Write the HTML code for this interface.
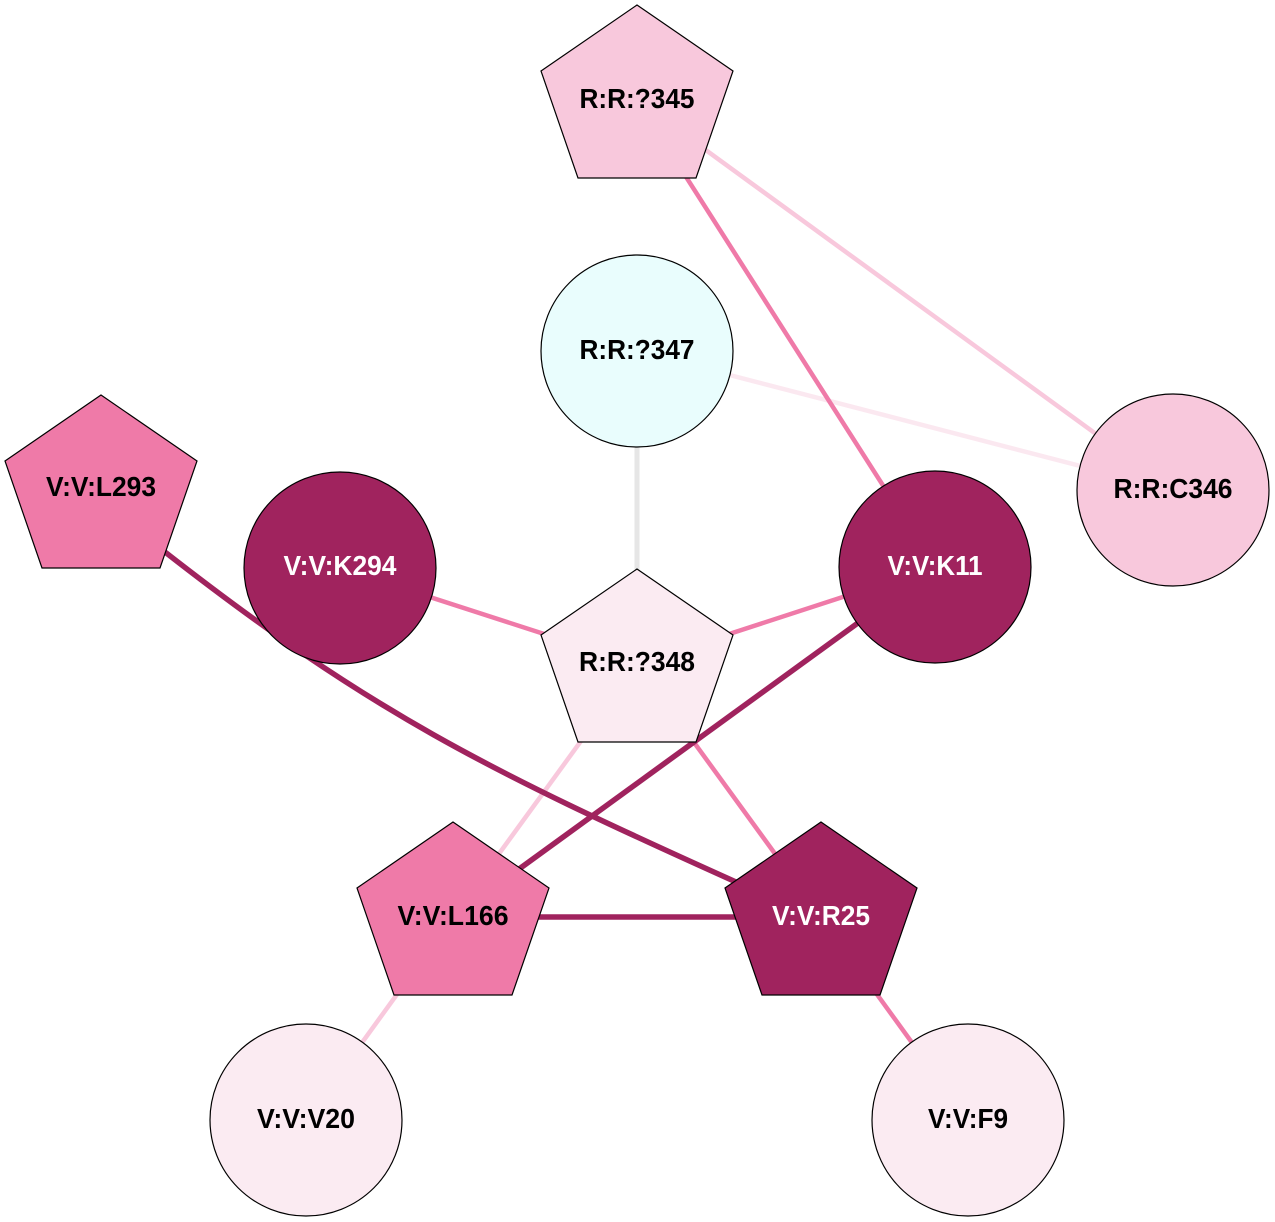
<!DOCTYPE html>
<html>
<head>
<meta charset="utf-8">
<style>
  html, body { margin:0; padding:0; background:#ffffff; }
  svg { display:block; }
  text { font-family: "Liberation Sans", Arial, sans-serif; font-weight: bold; font-size: 28px; text-anchor: middle; }
</style>
</head>
<body>
<svg width="1275" height="1222" viewBox="0 0 1275 1222" xmlns="http://www.w3.org/2000/svg">
  <rect x="0" y="0" width="1275" height="1222" fill="#ffffff"/>
  <!-- edges -->
  <g fill="none" stroke-linecap="butt">
    <line x1="637" y1="100" x2="1173" y2="490" stroke="#f8c8dc" stroke-width="4.5"/>
    <line x1="637" y1="351" x2="1173" y2="490" stroke="#fbe8f0" stroke-width="4.5"/>
    <line x1="637" y1="100" x2="935" y2="567" stroke="#ef7aa8" stroke-width="4.5"/>
    <line x1="637" y1="351" x2="637" y2="664" stroke="#e6e6e6" stroke-width="5"/>
    <line x1="340" y1="568" x2="637" y2="664" stroke="#ef7aa8" stroke-width="4.5"/>
    <line x1="637" y1="664" x2="935" y2="567" stroke="#ef7aa8" stroke-width="4.5"/>
    <line x1="637" y1="664" x2="453" y2="917" stroke="#f8c8dc" stroke-width="4.5"/>
    <line x1="637" y1="664" x2="821" y2="917" stroke="#ef7aa8" stroke-width="4.5"/>
    <path d="M165,552 C370,712 486,769.5 736,882" stroke="#a0235e" stroke-width="5.5"/>
    <line x1="935" y1="567" x2="453" y2="917" stroke="#a0235e" stroke-width="5.5"/>
    <line x1="453" y1="917" x2="821" y2="917" stroke="#a0235e" stroke-width="5.5"/>
    <line x1="453" y1="917" x2="306" y2="1120" stroke="#f8c8dc" stroke-width="4.5"/>
    <line x1="821" y1="917" x2="968" y2="1120" stroke="#ef7aa8" stroke-width="4.5"/>
  </g>
  <!-- nodes -->
  <g stroke="#000000" stroke-width="1.2">
    <polygon points="637,5 733,71 696,178 578,178 541,71" fill="#f8c8dc"/>
    <circle cx="637" cy="351" r="96" fill="#e9fdfd"/>
    <circle cx="1173" cy="490" r="96" fill="#f8c8dc"/>
    <polygon points="101,395 197,461 160,568 42,568 5,461" fill="#ef7aa8"/>
    <circle cx="340" cy="568" r="96" fill="#a0235e"/>
    <polygon points="637,569 733,635 696,742 578,742 541,635" fill="#fbebf2"/>
    <circle cx="935" cy="567" r="96" fill="#a0235e"/>
    <polygon points="453,822 549,888 512,995 394,995 357,888" fill="#ef7aa8"/>
    <polygon points="821,822 917,888 880,995 762,995 725,888" fill="#a0235e"/>
    <circle cx="306" cy="1120" r="96" fill="#fbebf2"/>
    <circle cx="968" cy="1120" r="96" fill="#fbebf2"/>
  </g>
  <!-- labels -->
  <g>
    <text x="637" y="108" fill="#000" textLength="115" lengthAdjust="spacingAndGlyphs">R:R:?345</text>
    <text x="637" y="359" fill="#000" textLength="115" lengthAdjust="spacingAndGlyphs">R:R:?347</text>
    <text x="1173" y="498" fill="#000" textLength="119" lengthAdjust="spacingAndGlyphs">R:R:C346</text>
    <text x="101" y="496" fill="#000" textLength="110" lengthAdjust="spacingAndGlyphs">V:V:L293</text>
    <text x="340" y="575" fill="#ffffff" textLength="113" lengthAdjust="spacingAndGlyphs">V:V:K294</text>
    <text x="637" y="671" fill="#000" textLength="116" lengthAdjust="spacingAndGlyphs">R:R:?348</text>
    <text x="935" y="575" fill="#ffffff" textLength="95" lengthAdjust="spacingAndGlyphs">V:V:K11</text>
    <text x="453" y="925" fill="#000" textLength="111" lengthAdjust="spacingAndGlyphs">V:V:L166</text>
    <text x="821" y="925" fill="#ffffff" textLength="98" lengthAdjust="spacingAndGlyphs">V:V:R25</text>
    <text x="306" y="1128" fill="#000" textLength="98" lengthAdjust="spacingAndGlyphs">V:V:V20</text>
    <text x="968" y="1128" fill="#000" textLength="80" lengthAdjust="spacingAndGlyphs">V:V:F9</text>
  </g>
</svg>
</body>
</html>
